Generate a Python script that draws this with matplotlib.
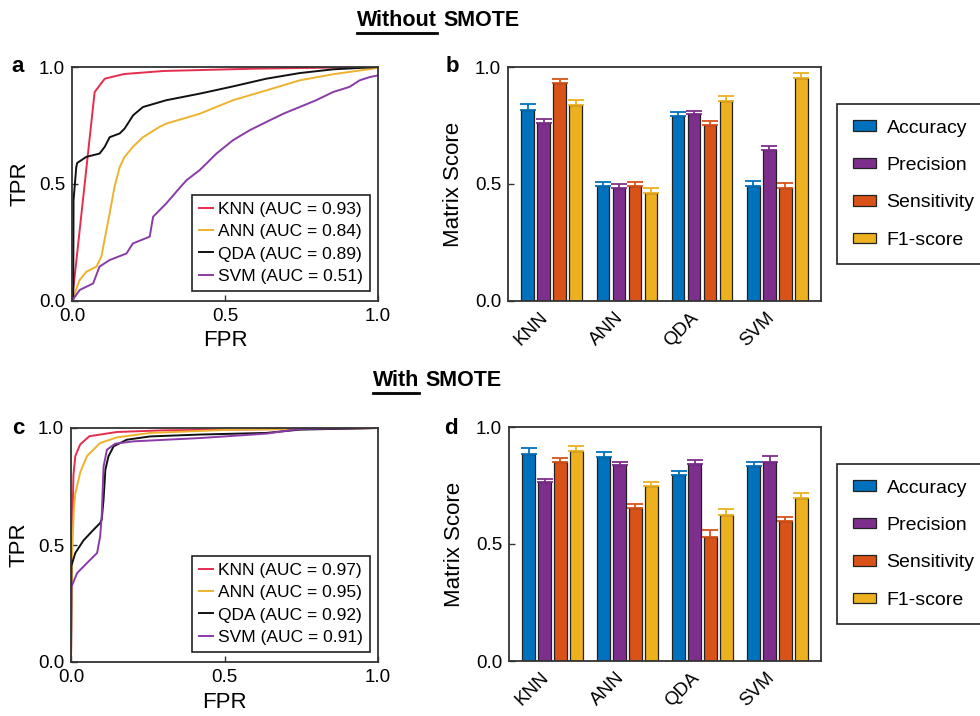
import numpy as np
import matplotlib
matplotlib.use("Agg")
import matplotlib.pyplot as plt
from matplotlib.lines import Line2D

plt.rcParams['font.family'] = ['Liberation Sans', 'DejaVu Sans']
plt.rcParams['xtick.direction'] = 'in'
plt.rcParams['ytick.direction'] = 'in'

##### ROC curves, without SMOTE (panel a)
fpr_a_knn = [0, 0.074, 0.107, 0.17, 0.30, 0.60, 1.0]
tpr_a_knn = [0, 0.893, 0.950, 0.970, 0.983, 0.993, 1.0]
fpr_a_ann = [0, 0.025, 0.047, 0.08, 0.096, 0.112, 0.123, 0.139, 0.156, 0.172, 0.199, 0.232,
             0.286, 0.308, 0.417, 0.526, 0.635, 0.744, 0.853, 1.0]
tpr_a_ann = [0, 0.09, 0.125, 0.147, 0.19, 0.30, 0.374, 0.488, 0.573, 0.616, 0.659, 0.70,
             0.744, 0.758, 0.80, 0.858, 0.90, 0.943, 0.969, 0.996]
fpr_a_qda = [0, 0.004, 0.005, 0.014, 0.017, 0.047, 0.09, 0.107, 0.123, 0.156, 0.172, 0.20,
             0.232, 0.308, 0.417, 0.526, 0.635, 0.744, 0.853, 1.0]
tpr_a_qda = [0, 0.0, 0.43, 0.573, 0.59, 0.616, 0.63, 0.659, 0.70, 0.716, 0.737, 0.794,
             0.829, 0.858, 0.886, 0.917, 0.950, 0.974, 0.990, 1.0]
fpr_a_svm = [0, 0.025, 0.069, 0.09, 0.123, 0.178, 0.199, 0.254, 0.265, 0.308, 0.341, 0.374,
             0.417, 0.472, 0.526, 0.581, 0.635, 0.69, 0.744, 0.798, 0.853, 0.907, 0.94, 0.973, 1.0]
tpr_a_svm = [0, 0.047, 0.075, 0.147, 0.175, 0.203, 0.246, 0.275, 0.36, 0.417, 0.467, 0.516,
             0.559, 0.63, 0.687, 0.73, 0.765, 0.80, 0.829, 0.858, 0.893, 0.915, 0.943, 0.957, 0.964]

##### ROC curves, with SMOTE (panel c)
fpr_c_knn = [0, 0.003, 0.008, 0.014, 0.03, 0.06, 0.15, 0.30, 1.0]
tpr_c_knn = [0, 0.50, 0.80, 0.88, 0.93, 0.965, 0.983, 0.99, 1.0]
fpr_c_ann = [0, 0.003, 0.009, 0.014, 0.03, 0.052, 0.095, 0.15, 0.258, 0.53, 1.0]
tpr_c_ann = [0, 0.437, 0.65, 0.72, 0.81, 0.88, 0.936, 0.96, 0.979, 0.993, 1.0]
fpr_c_qda = [0, 0.001, 0.014, 0.041, 0.074, 0.095, 0.10, 0.106, 0.112, 0.122, 0.139, 0.182,
             0.258, 0.42, 0.637, 0.745, 1.0]
tpr_c_qda = [0, 0.41, 0.466, 0.52, 0.566, 0.594, 0.608, 0.694, 0.822, 0.879, 0.922, 0.95,
             0.964, 0.972, 0.979, 0.993, 1.0]
fpr_c_svm = [0, 0.001, 0.02, 0.052, 0.085, 0.095, 0.10, 0.106, 0.117, 0.144, 0.204, 0.42,
             0.637, 0.745, 1.0]
tpr_c_svm = [0, 0.32, 0.38, 0.423, 0.466, 0.537, 0.622, 0.835, 0.907, 0.933, 0.943, 0.957,
             0.976, 0.996, 1.0]

roc_names = ["KNN", "ANN", "QDA", "SVM"]
auc_a = [0.93, 0.84, 0.89, 0.51]
auc_c = [0.97, 0.95, 0.92, 0.91]
roc_colors = ["#E52D4D", "#EDB22E", "#111111", "#8A3BA8"]

##### bar scores
models = ["KNN", "ANN", "QDA", "SVM"]
metrics = ["Accuracy", "Precision", "Sensitivity", "F1-score"]
bar_colors = ["#0072BD", "#7E2F8E", "#D95319", "#EDB120"]

# rows = metric, cols = model
score_b = [[0.818, 0.491, 0.789, 0.491],
           [0.761, 0.483, 0.798, 0.644],
           [0.933, 0.491, 0.751, 0.483],
           [0.838, 0.463, 0.856, 0.952]]
err_b = [[0.022, 0.018, 0.020, 0.020],
         [0.018, 0.016, 0.015, 0.020],
         [0.016, 0.018, 0.020, 0.020],
         [0.022, 0.018, 0.020, 0.021]]
score_d = [[0.886, 0.870, 0.793, 0.833],
           [0.765, 0.836, 0.840, 0.852],
           [0.852, 0.655, 0.530, 0.598],
           [0.897, 0.746, 0.625, 0.698]]
err_d = [[0.026, 0.023, 0.020, 0.016],
         [0.014, 0.016, 0.020, 0.024],
         [0.016, 0.017, 0.028, 0.017],
         [0.022, 0.018, 0.023, 0.019]]

W, H = 980, 716
fig = plt.figure(figsize=(W/100, H/100), dpi=100)

def px_axes(left, top, right, bottom):
    return fig.add_axes([left/W, 1 - bottom/H, (right-left)/W, (bottom-top)/H])

def style_axes(ax):
    for s in ax.spines.values():
        s.set_color("#333333")
        s.set_linewidth(1.3)
    ax.tick_params(labelsize=13.5, length=4, width=1, color="#333333", pad=5)

def roc_panel(ax, curves, aucs):
    for (fx, ty), name, a, c in zip(curves, roc_names, aucs, roc_colors):
        ax.plot(fx, ty, color=c, lw=1.4, label="{} (AUC = {:.2f})".format(name, a))
    ax.set_xlim(0, 1)
    ax.set_ylim(0, 1)
    ax.set_xticks([0, 0.5, 1.0])
    ax.set_yticks([0, 0.5, 1.0])
    ax.set_xticklabels(["0.0", "0.5", "1.0"])
    ax.set_yticklabels(["0.0", "0.5", "1.0"])
    ax.set_xlabel("FPR", fontsize=16, labelpad=4)
    ax.set_ylabel("TPR", fontsize=16, labelpad=6)
    style_axes(ax)
    leg = ax.legend(loc="lower right", bbox_to_anchor=(0.974, 0.043), borderaxespad=0,
                    fontsize=12.5, handlelength=0.8, handletextpad=0.3, labelspacing=0.42,
                    borderpad=0.4, fancybox=False, framealpha=1)
    leg.get_frame().set_edgecolor("#222222")
    leg.get_frame().set_linewidth(1.2)

def bar_panel(ax, scores, errs):
    x = np.arange(len(models))
    wbar, step = 0.165, 0.213
    for i in range(len(metrics)):
        pos = x + (i - 1.5) * step
        ax.bar(pos, scores[i], width=wbar, color=bar_colors[i], edgecolor="#222222",
               linewidth=0.9, label=metrics[i], zorder=2)
        ax.errorbar(pos, scores[i], yerr=[np.zeros(len(models)), errs[i]], fmt="none",
                    ecolor=bar_colors[i], elinewidth=1.3, capsize=6, capthick=1.3, zorder=3)
    ax.set_xlim(-0.58, 3.58)
    ax.set_ylim(0, 1)
    ax.set_yticks([0, 0.5, 1.0])
    ax.set_yticklabels(["0.0", "0.5", "1.0"])
    ax.set_xticks(x)
    ax.set_xticklabels(models, rotation=45, ha="right")
    ax.set_ylabel("Matrix Score", fontsize=16, labelpad=8)
    style_axes(ax)
    ax.tick_params(axis="x", length=0, pad=6)

ax_a = px_axes(72, 67, 378, 301)
roc_panel(ax_a, [(fpr_a_knn, tpr_a_knn), (fpr_a_ann, tpr_a_ann),
                 (fpr_a_qda, tpr_a_qda), (fpr_a_svm, tpr_a_svm)], auc_a)
ax_c = px_axes(71, 428, 378, 662)
roc_panel(ax_c, [(fpr_c_knn, tpr_c_knn), (fpr_c_ann, tpr_c_ann),
                 (fpr_c_qda, tpr_c_qda), (fpr_c_svm, tpr_c_svm)], auc_c)

ax_b = px_axes(508, 67, 821, 301)
bar_panel(ax_b, score_b, err_b)
ax_d = px_axes(509, 427, 821, 661)
bar_panel(ax_d, score_d, err_d)

for ax, top in [(ax_b, 104), (ax_d, 464)]:
    h, l = ax.get_legend_handles_labels()
    leg = fig.legend(h, l, loc="upper left", bbox_to_anchor=(837/W, 1 - top/H), borderaxespad=0,
                     fontsize=14, handlelength=1.2, handleheight=0.45, handletextpad=0.55,
                     labelspacing=1.05, borderpad=0.8, fancybox=False, framealpha=1)
    leg.get_frame().set_edgecolor("#222222")
    leg.get_frame().set_linewidth(1.2)

# panel letters
for lab, xp, yp in [("a", 18, 67), ("b", 452, 67), ("c", 18, 428), ("d", 451, 428)]:
    fig.text(xp/W, 1 - yp/H, lab, fontsize=16, fontweight="bold", ha="center", va="center")

# section titles, first word underlined
renderer = fig.canvas.get_renderer()
for word, xs, yc in [("Without", 437, 20), ("With", 419, 381)]:
    t1 = fig.text(xs/W, 1 - yc/H, word, fontsize=15.5, fontweight="bold", ha="right", va="center")
    fig.text((xs + 6)/W, 1 - yc/H, "SMOTE", fontsize=15.5, fontweight="bold", ha="left", va="center")
    bb = t1.get_window_extent(renderer)
    yl = (bb.y0 - 2) / H
    fig.add_artist(Line2D([bb.x0/W, bb.x1/W], [yl, yl], color="black", lw=2.0,
                          transform=fig.transFigure))

fig.savefig("out.png", dpi=100)
